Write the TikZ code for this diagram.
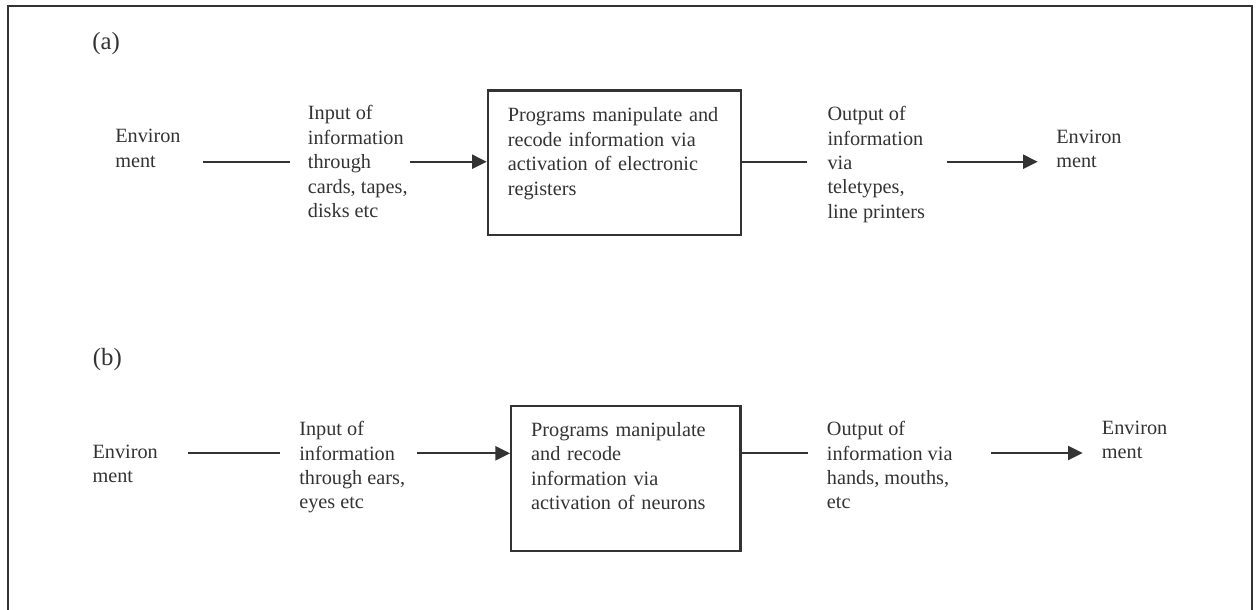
\documentclass[tikz,border=0pt]{standalone}
\usepackage{fontspec}
\setmainfont{Liberation Serif}
\usetikzlibrary{arrows.meta}
\definecolor{ink}{HTML}{333333}
\begin{document}
\begin{tikzpicture}[x=0.75pt,y=-0.75pt,
  every node/.style={font=\fontsize{15.2pt}{18.3pt}\selectfont, text=ink},
  txt/.style={anchor=north west, inner sep=0pt, align=left},
  lbl/.style={anchor=base west, inner sep=0pt, font=\fontsize{18.6pt}{22pt}\selectfont},
  procbox/.style={draw=ink, line width=1.7pt, anchor=north west, align=left, inner xsep=15pt},
  conn/.style={draw=ink, line width=1.7pt},
  arr/.style={conn, -{Triangle[length=11pt,width=10.5pt]}},
]
\useasboundingbox (0,0) rectangle (1256,610);
% outer frame (open at the bottom)
\draw[ink, line width=1.5pt] (8,610) -- (8,6) -- (1252,6) -- (1252,610);

% ---------- (a) ----------
\node[lbl] (la) at (92,50) {(a)};
\node[txt] (envA) at (115,129.1) {Environ\\ment};
\node[txt] (inA) at (307.7,105.4) {Input of\\information\\through\\cards, tapes,\\disks etc};
\node[procbox, inner ysep=13.1pt, text width=160pt, text depth=71.9pt] (boxA) at (486.7,89.3)
  {Programs manipulate and\\recode information via\\activation of electronic\\registers};
\node[txt] (outA) at (827.3,106.1) {Output of\\information\\via\\teletypes,\\line printers};
\node[txt] (envA2) at (1056,129.4) {Environ\\ment};

\coordinate (a1s) at (203,161.7);
\coordinate (a1e) at (290,161.7);
\coordinate (a2s) at (410,161.7);
\coordinate (a3e) at (806.7,161.7);
\coordinate (a4s) at (946.7,161.7);
\coordinate (a4e) at (1037.7,161.7);
\draw[conn] (a1s) -- (a1e);
\draw[arr] (a2s) -- (a2s -| boxA.west);
\draw[conn] (a3e -| boxA.east) -- (a3e);
\draw[arr] (a4s) -- (a4e);

% ---------- (b) ----------
\node[lbl] (lb) at (92.7,365) {(b)};
\node[txt] (envB) at (92.3,444.4) {Environ\\ment};
\node[txt] (inB) at (299,421.1) {Input of\\information\\through ears,\\eyes etc};
\node[procbox, inner ysep=12.1pt, text width=142pt, text depth=74.1pt] (boxB) at (510,405)
  {Programs manipulate\\and recode\\information via\\activation of neurons};
\node[txt] (outB) at (826.7,421.1) {Output of\\information via\\hands, mouths,\\etc};
\node[txt] (envB2) at (1101.7,420.4) {Environ\\ment};

\coordinate (b1s) at (188.3,453.3);
\coordinate (b1e) at (280,453.3);
\coordinate (b2s) at (417.3,453.3);
\coordinate (b3e) at (808.3,453);
\coordinate (b4s) at (991,453);
\coordinate (b4e) at (1082.7,453);
\draw[conn] (b1s) -- (b1e);
\draw[arr] (b2s) -- (b2s -| boxB.west);
\draw[conn] (b3e -| boxB.east) -- (b3e);
\draw[arr] (b4s) -- (b4e);
\end{tikzpicture}
\end{document}
